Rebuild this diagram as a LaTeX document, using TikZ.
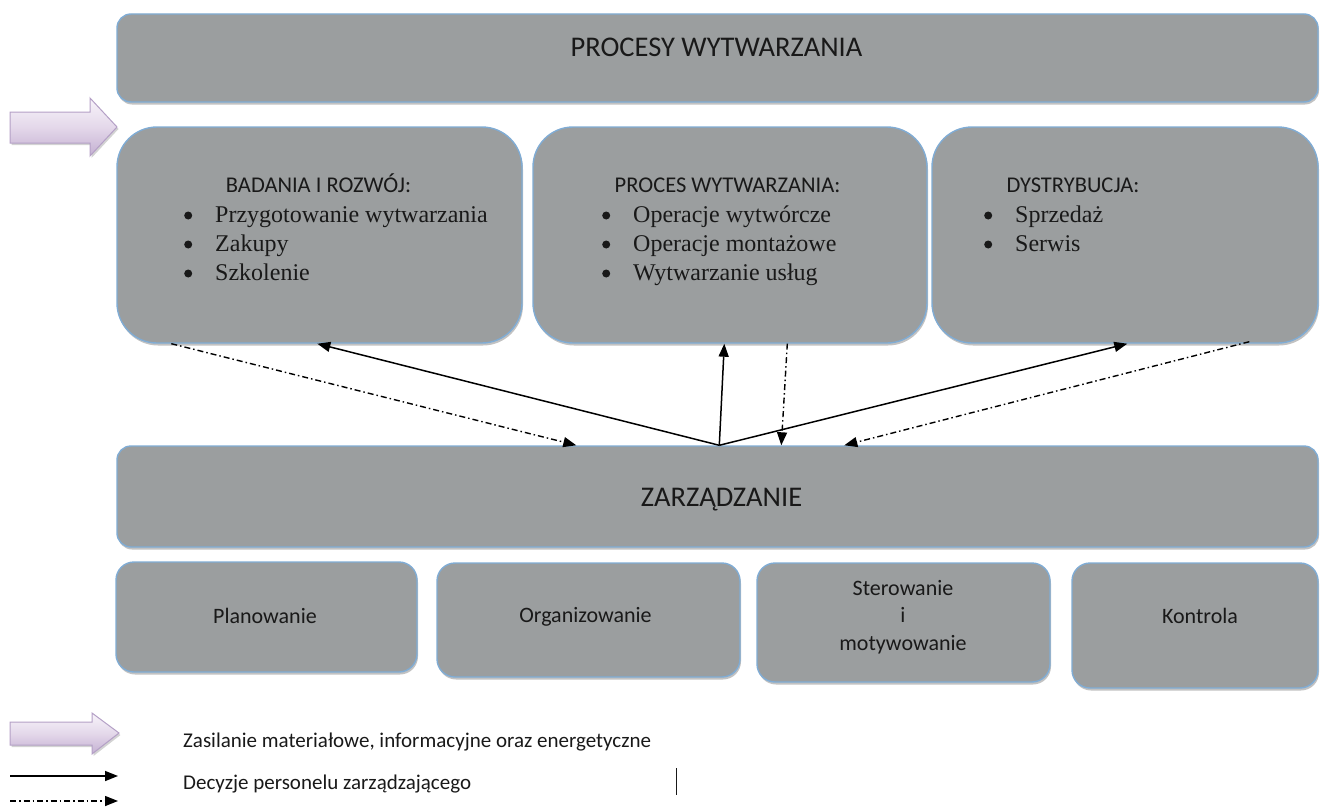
\documentclass[tikz,border=0pt]{standalone}
\usepackage{fontspec}
\setmainfont{Carlito}
\newfontfamily\tnr{Liberation Serif}
\usetikzlibrary{arrows.meta,calc,shadows}

\definecolor{boxfill}{RGB}{155,158,159}
\definecolor{boxline}{RGB}{128,172,212}
\definecolor{inktext}{RGB}{25,25,25}
\definecolor{lavtop}{RGB}{248,244,250}
\definecolor{lavmid}{RGB}{228,216,234}
\definecolor{lavbot}{RGB}{196,176,210}
\definecolor{lavline}{RGB}{180,160,198}

% round bullet mark followed by the item text
\newcommand{\bulletitem}[1]{\makebox[35pt][l]{\hspace*{4pt}\tikz[baseline=-6.5pt]\fill[inktext] (0,0) circle[radius=4pt];}#1}

\begin{document}
\begin{tikzpicture}[x=1pt,y=-1pt,
  panel/.style={draw=boxline, line width=1.4pt, fill=boxfill, rounded corners=#1,
    inner sep=0pt, drop shadow={shadow xshift=1pt, shadow yshift=-2.5pt, fill=black!60, opacity=0.4}},
  panel/.default=16pt,
  title/.style={font=\fontsize{28.5}{34}\selectfont, text=inktext, anchor=base, inner sep=0pt},
  head/.style={font=\fontsize{22.5}{27}\selectfont, text=inktext, anchor=base, inner sep=0pt},
  label/.style={font=\fontsize{22}{27}\selectfont, text=inktext, anchor=base, inner sep=0pt},
  item/.style={font=\tnr\fontsize{24}{29}\selectfont, text=inktext, anchor=base west, inner sep=0pt},
  legend/.style={font=\fontsize{21}{26}\selectfont, text=inktext, anchor=base west, inner sep=0pt},
  decision/.style={line width=1.5pt, -{Triangle[length=13pt,width=10pt]}},
  feedback/.style={line width=1.4pt, dash pattern=on 6pt off 3pt on 1.5pt off 3pt,
    -{Triangle[length=13pt,width=10pt]}},
  supply/.style={draw=lavline, line width=1pt, top color=lavtop, bottom color=lavbot,
    middle color=lavmid, drop shadow={shadow xshift=1.5pt, shadow yshift=-2pt, fill=black!50, opacity=0.35}}
]
\useasboundingbox (0,0) rectangle (1320,808);

% supply arrow entering the production processes
\path[supply] (10,112) -- (90,112) -- (90,98) -- (117,127) -- (90,156) -- (90,143) -- (10,143) -- cycle;

% production processes
\node[panel=14pt, minimum width=1201pt, minimum height=88pt] (proc) at (717.5,58) {};
\node[title] (procT) at (716.5,57) {PROCESY WYTWARZANIA};

\node[panel=40pt, minimum width=405pt, minimum height=216pt] (b1) at (319.5,235) {};
\node[panel=40pt, minimum width=394pt, minimum height=216pt] (b2) at (730,235) {};
\node[panel=40pt, minimum width=386pt, minimum height=216pt] (b3) at (1125,235) {};

\node[head] (b1h) at (318.5,192) {BADANIA I ROZWÓJ:};
\node[item] (b1a) at (180,222) {\bulletitem{Przygotowanie wytwarzania}};
\node[item] (b1b) at (180,251) {\bulletitem{Zakupy}};
\node[item] (b1c) at (180,280) {\bulletitem{Szkolenie}};

\node[head] (b2h) at (727.5,192) {PROCES WYTWARZANIA:};
\node[item] (b2a) at (598,222) {\bulletitem{Operacje wytwórcze}};
\node[item] (b2b) at (598,251) {\bulletitem{Operacje montażowe}};
\node[item] (b2c) at (598,280) {\bulletitem{Wytwarzanie usług}};

\node[head] (b3h) at (1073,192) {DYSTRYBUCJA:};
\node[item] (b3a) at (980,222) {\bulletitem{Sprzedaż}};
\node[item] (b3b) at (980,251) {\bulletitem{Serwis}};

% management
\node[panel=14pt, minimum width=1201pt, minimum height=101pt] (zarz) at (717.5,496.5) {};
\node[title] (zarzT) at (721.5,506) {ZARZĄDZANIE};

\node[panel=18pt, minimum width=301pt, minimum height=110pt] (plan) at (266.5,617) {};
\node[panel=18pt, minimum width=303pt, minimum height=114pt] (org) at (588.5,620) {};
\node[panel=18pt, minimum width=293pt, minimum height=119pt] (ster) at (903.5,622.5) {};
\node[panel=18pt, minimum width=246pt, minimum height=125pt] (kontr) at (1195,625.5) {};

\node[label] (planT) at (265,623) {Planowanie};
\node[label] (orgT) at (585.5,622) {Organizowanie};
\node[label] (sterA) at (903,595) {Sterowanie};
\node[label] (sterB) at (903,622) {i};
\node[label] (sterC) at (903,650) {motywowanie};
\node[label] (kontrT) at (1200,623) {Kontrola};

% decisions and feedback between management and the processes
\coordinate (hub) at ($(zarz.north west)+(603,0)$);
\draw[feedback] ($(b1.south west)+(55,0)$) -- ($(zarz.north west)+(460,0)$);
\draw[decision] (hub) -- ($(b1.south west)+(201,0)$);
\draw[decision] (hub) -- ($(b2.south west)+(192,0)$);
\draw[feedback] ($(b2.south west)+(255,0)$) -- ($(zarz.north west)+(665,0)$);
\draw[decision] (hub) -- ($(b3.south west)+(196,0)$);
\draw[feedback] ($(b3.south west)+(318,-2)$) -- ($(zarz.north west)+(728,0)$);

% legend
\path[supply] (10,722) -- (92,722) -- (92,713) -- (119,733) -- (92,754) -- (92,745) -- (10,745) -- cycle;
\node[legend] (legA) at (183,747) {Zasilanie materiałowe, informacyjne oraz energetyczne};

\coordinate (legBs) at (10,776);
\coordinate (legBe) at (118,776);
\draw[decision] (legBs) -- (legBe);
\node[legend] (legB) at (183,789) {Decyzje personelu zarządzającego};

\coordinate (legCs) at (10,801);
\coordinate (legCe) at (118,801);
\draw[feedback] (legCs) -- (legCe);

\coordinate (barTop) at (676,768);
\coordinate (barBot) at (676,795);
\draw[line width=1pt, inktext] (barTop) -- (barBot);
\end{tikzpicture}
\end{document}
